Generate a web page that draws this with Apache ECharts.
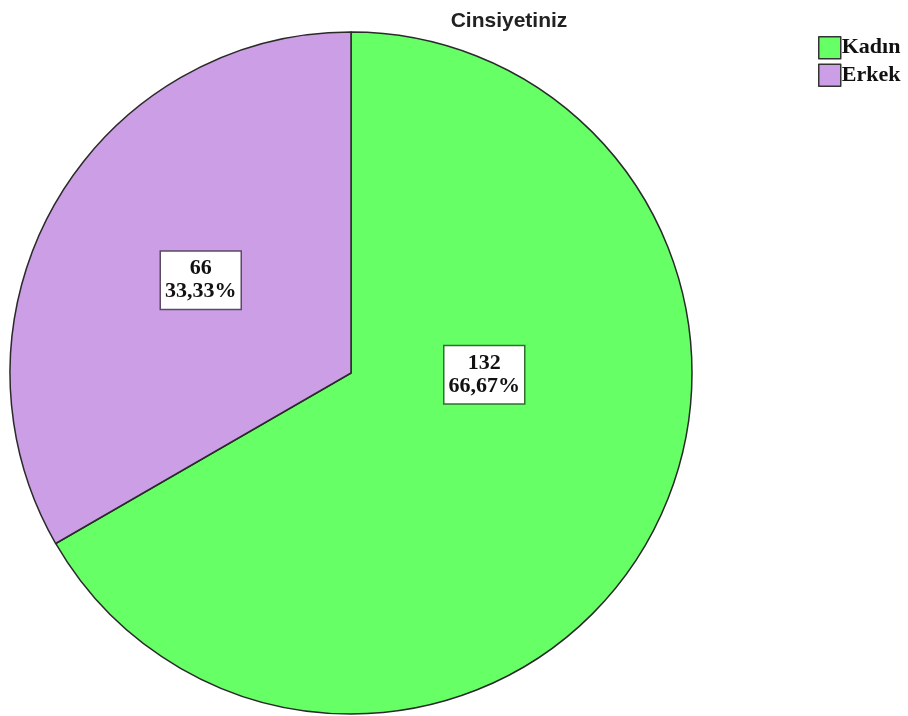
<!DOCTYPE html>
<html>
<head>
    <meta charset="utf-8">
    <title>Cinsiyetiniz</title>
    <script src="https://cdn.jsdelivr.net/npm/echarts@6/dist/echarts.min.js"></script>
    <style>
        html, body { margin: 0; padding: 0; background: #fff; }
        #chart1 { width: 908px; height: 716px; }
    </style>
</head>
<body>
<div id="chart1"></div>
<script type="text/javascript">
    // veriler
    var categories = ['Kadın', 'Erkek'];
    var counts = [132, 66];
    var percents = ['66,67%', '33,33%'];
    var colors = ['#66ff66', '#cc9ee6'];
    var boxBorders = ['#2f6f2f', '#5a4a63'];

    var myChart1 = echarts.init(document.getElementById('chart1'));

    var pieData = categories.map(function (name, i) {
        return {
            name: name,
            value: counts[i],
            itemStyle: { color: colors[i] },
            label: { borderColor: boxBorders[i] }
        };
    });

    myChart1.setOption({
        animation: false,
        title: {
            text: 'Cinsiyetiniz',
            left: 504,
            top: 6,
            textAlign: 'center',
            textStyle: {
                fontFamily: 'Liberation Sans, Arial, sans-serif',
                fontSize: 21,
                fontWeight: 'bold',
                color: '#222'
            }
        },
        legend: {
            data: categories,
            orient: 'vertical',
            left: 813,
            top: 31,
            itemWidth: 22,
            itemHeight: 22,
            itemGap: 4,
            icon: 'rect',
            itemStyle: { borderColor: '#333', borderWidth: 1.5 },
            textStyle: {
                fontFamily: 'Liberation Serif, Times New Roman, serif',
                fontSize: 22,
                fontWeight: 'bold',
                color: '#111',
                padding: [0, 0, 0, -4]
            }
        },
        series: [{
            name: 'Cinsiyetiniz',
            type: 'pie',
            center: [351, 373],
            radius: 341,
            startAngle: 90,
            clockwise: true,
            avoidLabelOverlap: false,
            itemStyle: { borderColor: '#2a2a2a', borderWidth: 1.5 },
            emphasis: { disabled: true },
            label: {
                show: true,
                position: 'inside',
                formatter: function (p) {
                    return counts[p.dataIndex] + '\n' + percents[p.dataIndex];
                },
                fontFamily: 'Liberation Serif, Times New Roman, serif',
                fontSize: 22,
                fontWeight: 'bold',
                lineHeight: 23,
                color: '#111',
                backgroundColor: '#fff',
                borderWidth: 1.5,
                padding: [6, 4, 5, 4],
                align: 'center'
            },
            labelLayout: function (p) {
                if (p.dataIndex === 0) {
                    return { dx: -17, dy: -85 };
                }
                return { dx: 0, dy: -6 };
            },
            data: pieData
        }]
    });
</script>
</body>
</html>
